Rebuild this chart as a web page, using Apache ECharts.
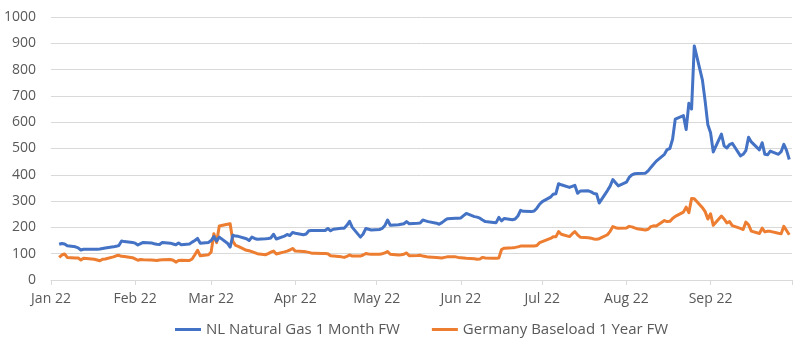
<!DOCTYPE html>
<html>
<head>
<meta charset="utf-8">
<title>NL Natural Gas vs Germany Baseload</title>
<script src="https://cdn.jsdelivr.net/npm/echarts@6/dist/echarts.min.js"></script>
<style>
  html, body { margin: 0; padding: 0; background: #ffffff; }
  #chart { width: 810px; height: 345px; }
</style>
</head>
<body>
<div id="chart"></div>
<script>
// Series names shown in the legend
const seriesNames = ['NL Natural Gas 1 Month FW', 'Germany Baseload 1 Year FW'];

// Month labels for the date axis
const monthNames = ['Jan', 'Feb', 'Mar', 'Apr', 'May', 'Jun', 'Jul', 'Aug', 'Sep', 'Oct', 'Nov', 'Dec'];

// First and last trading day of the series (weekdays in between)
const firstDay = '2022-01-04';
const lastDay = '2022-09-30';

// Axis range
const axisStart = '2022-01-01';
const axisEnd = '2022-10-01';

// NL Natural Gas 1 Month FW, one value per weekday, grouped by week
const gasValues = [
  136, 139, 137, 130,
  126, 122, 114, 117, 117,
  117, 117, 118, 120, 122,
  126, 128, 131, 148, 146,
  143, 140, 133, 138, 143,
  141, 138, 136, 135, 143,
  140, 137, 134, 141, 134,
  137, 144, 150, 158, 140,
  143, 150, 165, 148, 163,
  140, 125, 170, 167, 166,
  157, 150, 163, 158, 155,
  157, 158, 160, 174, 156,
  167, 173, 169, 181, 178,
  172, 175, 187, 188, 188,
  188, 188, 196, 187, 193,
  197, 197, 208, 223, 200,
  163, 175, 196, 193, 190,
  192, 196, 207, 228, 208,
  210, 212, 214, 222, 214,
  216, 217, 228, 225, 222,
  216, 212, 218, 226, 233,
  235, 235, 236, 245, 253,
  241, 239, 235, 228, 222,
  219, 218, 238, 225, 234,
  229, 232, 243, 265, 261,
  260, 262, 273, 288, 298,
  315, 326, 328, 366, 362,
  352, 356, 360, 330, 338,
  339, 335, 329, 327, 293,
  340, 357, 382, 370, 358,
  372, 390, 400, 404, 405,
  406, 415, 428, 440, 452,
  478, 496, 500, 535, 612,
  625, 572, 672, 650, 890,
  760, 680, 590, 560, 487,
  555, 510, 502, 515, 520,
  472, 478, 492, 543, 525,
  495, 522, 478, 476, 490,
  478, 488, 516, 493, 458
];

// Germany Baseload 1 Year FW, one value per weekday, grouped by week
const powerValues = [
  86, 95, 99, 86,
  84, 84, 76, 83, 82,
  79, 76, 73, 79, 80,
  88, 92, 94, 90, 89,
  85, 80, 75, 78, 77,
  76, 75, 74, 76, 77,
  78, 75, 68, 74, 75,
  74, 80, 96, 113, 92,
  96, 106, 176, 142, 205,
  212, 214, 147, 132, 128,
  113, 111, 108, 104, 100,
  96, 100, 106, 110, 99,
  107, 110, 114, 120, 110,
  108, 107, 105, 102, 102,
  101, 101, 100, 92, 91,
  88, 86, 90, 95, 91,
  91, 95, 101, 99, 98,
  98, 100, 103, 108, 98,
  95, 96, 98, 103, 92,
  93, 94, 91, 89, 87,
  86, 85, 84, 86, 88,
  88, 86, 85, 84, 83,
  81, 79, 80, 86, 84,
  83, 83, 84, 116, 121,
  123, 124, 126, 129, 129,
  129, 129, 131, 142, 146,
  158, 164, 164, 184, 174,
  165, 175, 184, 172, 163,
  161, 159, 156, 155, 157,
  172, 185, 203, 199, 197,
  198, 204, 202, 198, 195,
  190, 193, 203, 206, 205,
  226, 222, 223, 234, 242,
  258, 277, 256, 310, 309,
  275, 260, 232, 252, 208,
  243, 232, 217, 222, 207,
  196, 192, 220, 210, 186,
  177, 197, 183, 185, 185,
  178, 176, 204, 188, 172
];

// Y axis range and step
const yMin = 0;
const yMax = 1000;
const yStep = 100;

function toTime(s) {
  const p = s.split('-').map(Number);
  return Date.UTC(p[0], p[1] - 1, p[2]);
}

// Weekday timestamps from firstDay to lastDay
function weekdays(from, to) {
  const out = [];
  const DAY = 86400000;
  for (let t = toTime(from); t <= toTime(to); t += DAY) {
    const wd = new Date(t).getUTCDay();
    if (wd !== 0 && wd !== 6) out.push(t);
  }
  return out;
}

// Month starts between two dates (inclusive)
function monthStarts(from, to) {
  const out = [];
  const a = new Date(toTime(from));
  let y = a.getUTCFullYear(), m = a.getUTCMonth();
  const end = toTime(to);
  while (Date.UTC(y, m, 1) <= end) {
    out.push(Date.UTC(y, m, 1));
    m++;
    if (m > 11) { m = 0; y++; }
  }
  return out;
}

const days = weekdays(firstDay, lastDay);
if (days.length !== gasValues.length || days.length !== powerValues.length) {
  console.error('length mismatch', days.length, gasValues.length, powerValues.length);
}
const gasData = days.map((t, i) => [t, gasValues[i]]);
const powerData = days.map((t, i) => [t, powerValues[i]]);

const tickValues = monthStarts(axisStart, axisEnd);
const labelValues = tickValues.slice(0, -1);

const FONT = '"Open Sans", "Noto Sans", sans-serif';
const TEXT = '#595959';
const GRID = '#d9d9d9';

const chart = echarts.init(document.getElementById('chart'), null, { renderer: 'canvas' });
chart.setOption({
  animation: false,
  backgroundColor: '#ffffff',
  grid: { left: 51, right: 18, top: 17, bottom: 65, containLabel: false },
  legend: {
    left: 170,
    top: 317,
    itemGap: 32,
    itemWidth: 26,
    itemHeight: 3,
    icon: 'rect',
    textStyle: { color: TEXT, fontSize: 15, fontFamily: FONT },
    data: seriesNames
  },
  xAxis: {
    type: 'value',
    min: toTime(axisStart),
    max: toTime(axisEnd),
    axisLine: { show: true, lineStyle: { color: GRID, width: 1 } },
    axisTick: {
      show: true,
      length: 5,
      customValues: tickValues,
      lineStyle: { color: GRID }
    },
    axisLabel: {
      customValues: labelValues,
      margin: 12,
      color: TEXT,
      fontSize: 14,
      fontFamily: FONT,
      formatter: function (v) {
        const d = new Date(v);
        return monthNames[d.getUTCMonth()] + ' ' + String(d.getUTCFullYear()).slice(2);
      }
    },
    splitLine: { show: false }
  },
  yAxis: {
    type: 'value',
    min: yMin,
    max: yMax,
    interval: yStep,
    axisLine: { show: false },
    axisTick: { show: false },
    axisLabel: {
      color: TEXT,
      fontSize: 14,
      fontFamily: FONT,
      margin: 15,
      formatter: function (v) { return String(v); }
    },
    splitLine: { lineStyle: { color: GRID, width: 1 } }
  },
  series: [
    {
      name: seriesNames[0],
      type: 'line',
      data: gasData,
      showSymbol: false,
      symbol: 'none',
      color: '#4472C4',
      lineStyle: { color: '#4472C4', width: 3, join: 'round' },
      z: 3
    },
    {
      name: seriesNames[1],
      type: 'line',
      data: powerData,
      showSymbol: false,
      symbol: 'none',
      color: '#ED7D31',
      lineStyle: { color: '#ED7D31', width: 3, join: 'round' },
      z: 2
    }
  ]
});
</script>
</body>
</html>
